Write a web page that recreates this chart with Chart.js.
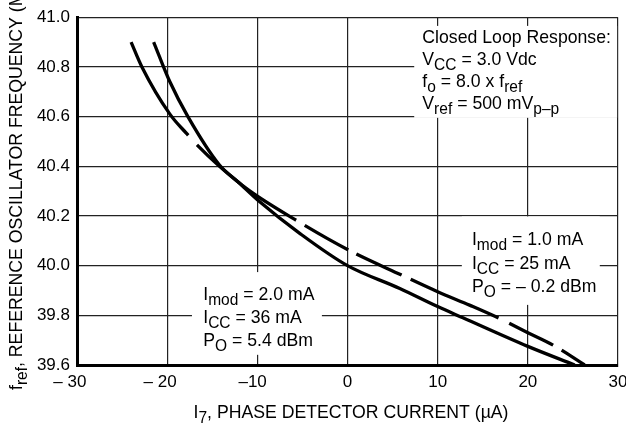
<!DOCTYPE html>
<html>
<head>
<meta charset="utf-8">
<script src="https://cdn.jsdelivr.net/npm/chart.js@4.4.1/dist/chart.umd.min.js"></script>
<style>
    html, body { margin: 0; padding: 0; background: #ffffff; }
</style>
</head>
<body>
<canvas id="grafico-frequencia" width="626" height="425"></canvas>
<script>
let rotulosX = ['– 30', '– 20', '–10', '0', '10', '20', '30'];
let rotulosY = ['39.6', '39.8', '40.0', '40.2', '40.4', '40.6', '40.8', '41.0'];

// Imod = 2.0 mA (linha cheia)
let correnteImod2 = [-21.5, -19.7, -17.7, -14.2, -12.1, -9.7, -5.3, 0, 5.8, 10, 12.8, 20, 25.2];
let frequenciaImod2 = [40.9, 40.74, 40.6, 40.405, 40.336, 40.256, 40.13, 40.0, 39.908, 39.835, 39.79, 39.675, 39.6];

// Imod = 1.0 mA (tracejada)
let correnteImod1 = [-24.0, -22.8, -19.7, -17.8, -16.8, -14.2, -11.0, -5.8, 0, 6, 10, 13.6, 16.7, 20, 22.8, 26.3];
let frequenciaImod1 = [40.9, 40.8, 40.61, 40.53, 40.49, 40.4, 40.305, 40.185, 40.065, 39.962, 39.895, 39.84, 39.79, 39.73, 39.68, 39.6];

let tituloX = [['I'], ['7', 1], [', PHASE DETECTOR CURRENT (µA)']];
let tituloY = [['f'], ['ref', 1], [', REFERENCE OSCILLATOR FREQUENCY (MHz)']];

let notaCondicoes = [
    [['Closed Loop Response:']],
    [['V'], ['CC', 1], [' = 3.0 Vdc']],
    [['f'], ['o', 1], [' = 8.0 x f'], ['ref', 1]],
    [['V'], ['ref', 1], [' = 500 mV'], ['p–p', 1]]
];
let notaImod2 = [
    [['I'], ['mod', 1], [' = 2.0 mA']],
    [['I'], ['CC', 1], [' = 36 mA']],
    [['P'], ['O', 1], [' = 5.4 dBm']]
];
let notaImod1 = [
    [['I'], ['mod', 1], [' = 1.0 mA']],
    [['I'], ['CC', 1], [' = 25 mA']],
    [['P'], ['O', 1], [' = – 0.2 dBm']]
];

let fonte = '"Liberation Sans", Arial, sans-serif';

function pontos(xs, ys) {
    let lista = [];
    for (let i = 0; i < xs.length; i++) {
        lista.push({ x: xs[i], y: ys[i] });
    }
    return lista;
}

// texto com subscritos, levemente condensado como no original
function escrever(ctx, partes, x, y, tam) {
    let inicio = x;
    for (let i = 0; i < partes.length; i++) {
        let sub = partes[i][1] == 1;
        ctx.font = (sub ? tam * 0.88 : tam) + 'px ' + fonte;
        ctx.save();
        ctx.translate(x, y + (sub ? 5 : 0));
        ctx.scale(0.93, 1);
        ctx.fillText(partes[i][0], 0, 0);
        ctx.restore();
        x += ctx.measureText(partes[i][0]).width * 0.93;
    }
    return x - inicio;
}

function larguraTexto(ctx, partes, tam) {
    let w = 0;
    for (let i = 0; i < partes.length; i++) {
        ctx.font = (partes[i][1] == 1 ? tam * 0.88 : tam) + 'px ' + fonte;
        w += ctx.measureText(partes[i][0]).width * 0.93;
    }
    return w;
}

function caixaNota(chart, linhas, x0, x1, y0, y1, xTexto, yTexto, passo) {
    let ctx = chart.ctx;
    let sx = chart.scales.x;
    let sy = chart.scales.y;
    let left = sx.getPixelForValue(x0);
    let right = sx.getPixelForValue(x1);
    let top = sy.getPixelForValue(y0);
    let bottom = sy.getPixelForValue(y1);
    ctx.fillStyle = '#ffffff';
    ctx.fillRect(left, top, right - left, bottom - top);
    ctx.fillStyle = '#000000';
    ctx.textBaseline = 'alphabetic';
    ctx.textAlign = 'left';
    let tx = sx.getPixelForValue(xTexto);
    let ty = sy.getPixelForValue(yTexto);
    for (let i = 0; i < linhas.length; i++) {
        escrever(ctx, linhas[i], tx, ty + i * passo, 19);
    }
}

let textos = {
    id: 'textos',
    beforeDatasetsDraw(chart) {
        let ctx = chart.ctx;
        ctx.save();
        caixaNota(chart, notaCondicoes, 7.4, 29.9, 40.965, 40.595, 8.3, 40.897, 22);
        caixaNota(chart, notaImod2, -17.25, -2.84, 39.974, 39.641, -16.0, 39.862, 23);
        caixaNota(chart, notaImod1, 12.68, 27.98, 40.198, 39.842, 13.8, 40.082, 23.5);
        ctx.restore();
    },
    afterDraw(chart) {
        let ctx = chart.ctx;
        ctx.save();
        ctx.fillStyle = '#000000';
        ctx.textBaseline = 'alphabetic';
        ctx.textAlign = 'left';

        let w = larguraTexto(ctx, tituloX, 19);
        escrever(ctx, tituloX, 351 - w / 2, 418, 19);

        ctx.translate(22, 390);
        ctx.rotate(-Math.PI / 2);
        escrever(ctx, tituloY, 0, 0, 19);
        ctx.restore();
    }
};

Chart.defaults.font.family = fonte;
Chart.defaults.color = '#000000';

let dados = {
    datasets: [{
        label: 'Imod = 2.0 mA',
        data: pontos(correnteImod2, frequenciaImod2),
        borderColor: '#000000',
        borderWidth: 3.3,
        pointRadius: 0,
        cubicInterpolationMode: 'monotone',
        fill: false
    }, {
        label: 'Imod = 1.0 mA',
        data: pontos(correnteImod1, frequenciaImod1),
        borderColor: '#000000',
        borderWidth: 3.3,
        // traços irregulares como no desenho original
        borderDash: [110, 13, 125, 10, 50, 9, 50, 10, 96, 12, 49, 10, 60, 10],
        pointRadius: 0,
        cubicInterpolationMode: 'monotone',
        fill: false
    }]
};

let config = {
    type: 'line',
    data: dados,
    options: {
        responsive: false,
        animation: false,
        devicePixelRatio: 1,
        layout: {
            padding: { top: 16, right: 8, left: 0, bottom: 0 }
        },
        plugins: {
            legend: { display: false },
            tooltip: { enabled: false }
        },
        scales: {
            x: {
                type: 'linear',
                min: -30,
                max: 30,
                afterFit: function (scale) {
                    scale.height = 60;
                    scale.paddingRight = 0;
                    scale.paddingLeft = 0;
                },
                ticks: {
                    stepSize: 10,
                    maxRotation: 0,
                    autoSkip: false,
                    padding: 7,
                    font: { size: 17 },
                    callback: function (valor, indice) {
                        let r = rotulosX[indice];
                        // espaços no fim para o número ficar centrado na linha
                        if (r.startsWith('– ')) return r + '   ';
                        if (r.startsWith('–')) return r + '  ';
                        return r;
                    }
                },
                grid: { color: '#222222', lineWidth: 1.2, drawTicks: false },
                border: { color: '#000000', width: 3 }
            },
            y: {
                min: 39.6,
                max: 41.0,
                afterFit: function (scale) {
                    scale.width = 77;
                },
                ticks: {
                    stepSize: 0.2,
                    padding: 7,
                    font: { size: 17 },
                    callback: function (valor, indice) {
                        return rotulosY[indice];
                    }
                },
                grid: { color: '#222222', lineWidth: 1.2, drawTicks: false },
                border: { color: '#000000', width: 3 }
            }
        }
    },
    plugins: [textos]
};

let meuGrafico = new Chart(
    document.getElementById('grafico-frequencia'),
    config
);
</script>
</body>
</html>
